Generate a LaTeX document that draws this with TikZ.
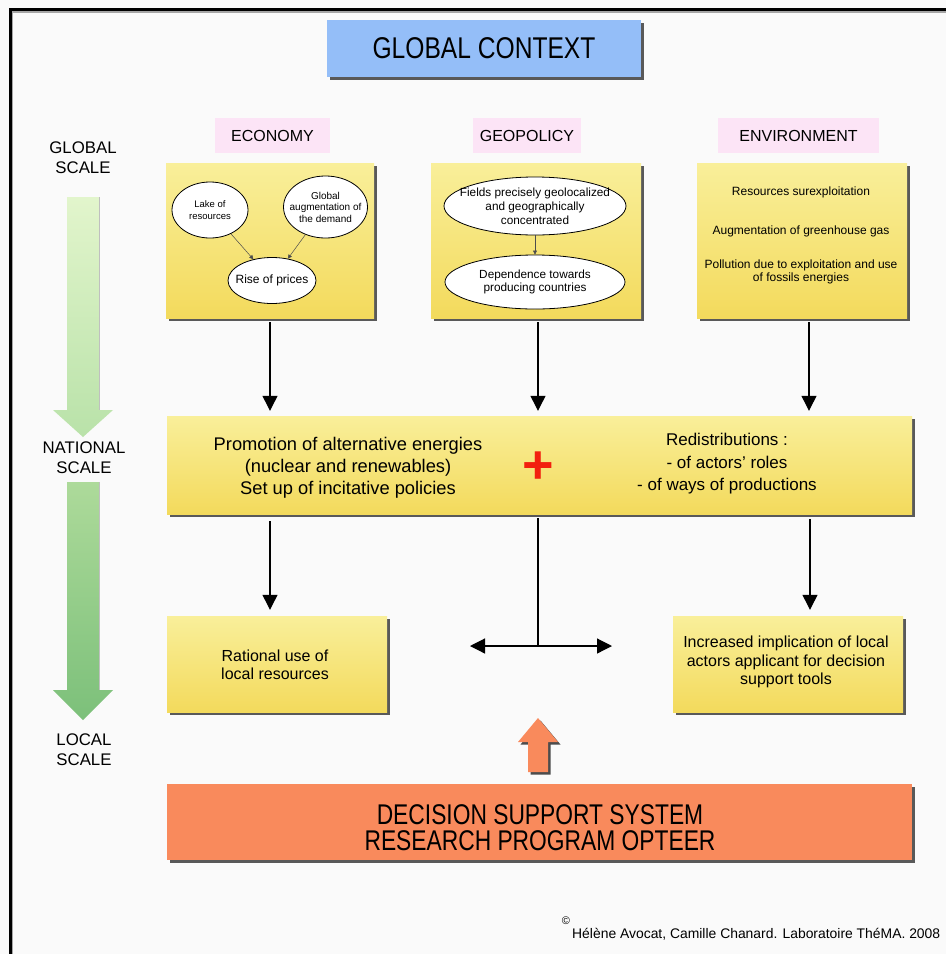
\documentclass[tikz,border=0pt]{standalone}
\usepackage{fontspec}
\setmainfont{Liberation Sans}
\newfontfamily\condfont[FakeStretch=0.82]{Liberation Sans}
\newfontfamily\condfontb[FakeStretch=0.80]{Liberation Sans}
\usetikzlibrary{shapes.geometric,arrows.meta,shadows,calc}
\definecolor{bgc}{HTML}{FAFAFA}
\definecolor{bluec}{HTML}{94BEF8}
\definecolor{pinkc}{HTML}{FCE4F6}
\definecolor{ytop}{HTML}{F9EF9A}
\definecolor{ybot}{HTML}{F3DA5C}
\definecolor{orangec}{HTML}{F98A5C}
\definecolor{plusred}{HTML}{F2200E}
\definecolor{gA}{HTML}{E2F5CC}
\definecolor{gB}{HTML}{B9E2A9}
\definecolor{gC}{HTML}{ADDA9A}
\definecolor{gD}{HTML}{7CC07A}
\newcommand{\fsz}[2]{\fontsize{#1}{#2}\selectfont}
\tikzset{
  shad/.style={drop shadow={shadow xshift=2.5pt,shadow yshift=-2.5pt,fill=black!65,opacity=1}},
  bluebox/.style={fill=bluec,shad,inner sep=0pt},
  pinkbox/.style={fill=pinkc,inner sep=0pt,font=\fsz{16}{19}},
  ybox/.style={top color=ytop,bottom color=ybot,shad,inner sep=0pt},
  ell/.style={ellipse,draw=black,line width=0.8pt,fill=white,inner sep=0pt},
  thinarr/.style={draw=black!70,line width=0.5pt,-{Triangle[width=4pt,length=4pt]}},
  bigarr/.style={draw=black,line width=1.2pt,-{Triangle[width=15pt,length=15pt]}},
  plain/.style={draw=black,line width=1.2pt},
  txt/.style={align=center,inner sep=0pt},
  scalelab/.style={align=center,inner sep=0pt,font=\fsz{16.8}{20}}
}
\begin{document}
\begin{tikzpicture}[x=1pt,y=-1pt]
\useasboundingbox (0,0) rectangle (946,954);
\fill[bgc] (0,0) rectangle (946,954);
% frame
\draw[black!35,line width=1.5pt] (12,12) -- (946,12);
\draw[black,line width=3pt] (10.5,9.5) -- (946,9.5);
\draw[black,line width=3pt] (10.5,8) -- (10.5,954);
\draw[black!35,line width=1pt] (12.5,11) -- (12.5,954);

% title
\node[bluebox,minimum width=314pt,minimum height=57pt] (gc) at (484,48.5) {\condfont\fsz{30}{36}\raisebox{-1.5pt}{GLOBAL CONTEXT}};

% category labels
\node[pinkbox,minimum width=115pt,minimum height=35pt] (econ) at (272.5,135.5) {ECONOMY};
\node[pinkbox,minimum width=108pt,minimum height=35pt] (geol) at (527,135.5) {GEOPOLICY};
\node[pinkbox,minimum width=161pt,minimum height=35pt] (envl) at (798.5,135.5) {ENVIRONMENT};

% top yellow boxes
\node[ybox,minimum width=208pt,minimum height=155pt] (eco) at (270,240.5) {};
\node[ybox,minimum width=210pt,minimum height=155pt] (geo) at (536,240.5) {};
\node[ybox,minimum width=210pt,minimum height=155pt] (env) at (802,240.5) {};

% economy ellipses
\node[ell,minimum width=76pt,minimum height=56pt] (lake) at (210,210) {};
\node[txt,font=\fsz{9.5}{11.5}] (laket) at (lake) {Lake of\\resources};
\node[ell,minimum width=84pt,minimum height=62pt] (glob) at (325.5,207) {};
\node[txt,font=\fsz{10}{11.5}] (globt) at (glob) {Global\\augmentation of\\the demand};
\node[ell,minimum width=88pt,minimum height=46pt] (rise) at (272,280.5) {};
\node[txt,font=\fsz{12}{14}] (riset) at (rise) {Rise of prices};
\draw[thinarr] (lake) -- (rise);
\draw[thinarr] (glob) -- (rise);

% geopolicy ellipses
\node[ell,minimum width=182pt,minimum height=58pt] (fields) at (535,206) {};
\node[txt,font=\fsz{11.8}{13.8}] (fieldst) at (fields) {Fields precisely geolocalized\\and geographically\\concentrated};
\node[ell,minimum width=180pt,minimum height=54pt] (dep) at (535,282) {};
\node[txt,font=\fsz{11.8}{13.8}] (dept) at (dep) {Dependence towards\\producing countries};
\draw[thinarr] (fields) -- (dep);

% environment texts
\node[txt,font=\fsz{12}{13}] (e1) at (801,192) {Resources surexploitation};
\node[txt,font=\fsz{12}{13}] (e2) at (801,231) {Augmentation of greenhouse gas};
\node[txt,font=\fsz{12}{13}] (e3) at (801,272) {Pollution due to exploitation and use\\of fossils energies};

% national box
\node[ybox,minimum width=745pt,minimum height=98pt] (nat) at (539.5,465) {};
\node[txt,font=\fsz{18.3}{22}] (natl) at (348,468) {Promotion of alternative energies\\(nuclear and renewables)\\Set up of incitative policies};
\node[txt,font=\fsz{17}{22.5}] (natr) at (727,464) {Redistributions :\\- of actors’ roles\\- of ways of productions};
\node[txt,text=plusred,font=\bfseries\fsz{54}{54}] (plus) at (538,468) {+};

% arrows top -> national
\draw[bigarr] ($(eco.south)+(0,4)$) -- ($(eco.south |- nat.north)+(0,-5)$);
\draw[bigarr] ($(geo.south)+(2,4)$) -- ($(geo.south |- nat.north)+(2,-5)$);
\draw[bigarr] ($(env.south)+(7,4)$) -- ($(env.south |- nat.north)+(7,-5)$);

% local boxes
\node[ybox,minimum width=220pt,minimum height=96pt] (ratl) at (277,664) {};
\node[txt,font=\fsz{16}{18.5}] (ratlt) at (275,665) {Rational use of\\local resources};
\node[ybox,minimum width=230pt,minimum height=96pt] (incr) at (788,664) {};
\node[txt,font=\fsz{16}{18.5}] (incrt) at (786,662) {Increased implication of local\\actors applicant for decision\\support tools};

% arrows national -> local
\draw[bigarr] ($(nat.south -| eco.south)+(0,7)$) -- ($(ratl.north -| eco.south)+(0,-6)$);
\draw[bigarr] ($(nat.south -| env.south)+(8,5)$) -- ($(incr.north -| env.south)+(8,-6)$);

% T connector
\coordinate (ttop) at (538,518);
\coordinate (tj) at (538,646);
\coordinate (tl) at (470,646);
\coordinate (tr) at (612,646);
\draw[plain] (ttop) -- (tj);
\draw[bigarr] (tj) -- (tl);
\draw[bigarr] (tj) -- (tr);

% orange up arrow
\fill[black!70] (540.5,720.5) -- (560.5,744.5) -- (550.5,744.5) -- (550.5,774.5) -- (530.5,774.5) -- (530.5,744.5) -- (520.5,744.5) -- cycle;
\fill[orangec] (538,718) -- (558,742) -- (548,742) -- (548,772) -- (528,772) -- (528,742) -- (518,742) -- cycle;

% decision support box
\node[fill=orangec,shad,inner sep=0pt,minimum width=745pt,minimum height=76pt] (dss) at (539.5,822) {};
\node[txt,font=\condfontb\fsz{28.5}{26}] (dsst) at (540,828) {DECISION SUPPORT SYSTEM\\RESEARCH PROGRAM OPTEER};

% scale column
\node[scalelab] (gs) at (83,158) {GLOBAL\\SCALE};
\node[scalelab] (ns) at (84,458) {NATIONAL\\SCALE};
\node[scalelab] (ls) at (84,750) {LOCAL\\SCALE};
\shade[top color=gA,bottom color=gB] (67,197) -- (99,197) -- (99,410) -- (113,410) -- (83,437) -- (53,410) -- (67,410) -- cycle;
\draw[black!25,line width=0.8pt] (99,197) -- (99,410);
\shade[top color=gC,bottom color=gD] (67,482) -- (99,482) -- (99,690) -- (113,690) -- (83,720) -- (53,690) -- (67,690) -- cycle;
\draw[black!25,line width=0.8pt] (99,482) -- (99,690);

% copyright
\node[txt,font=\fsz{11}{12}] (copy) at (566,921) {©};
\node[txt,anchor=west,font=\fsz{13.9}{15}] (credit) at (572,934) {Hélène Avocat, Camille Chanard. Laboratoire ThéMA. 2008};
\end{tikzpicture}
\end{document}
